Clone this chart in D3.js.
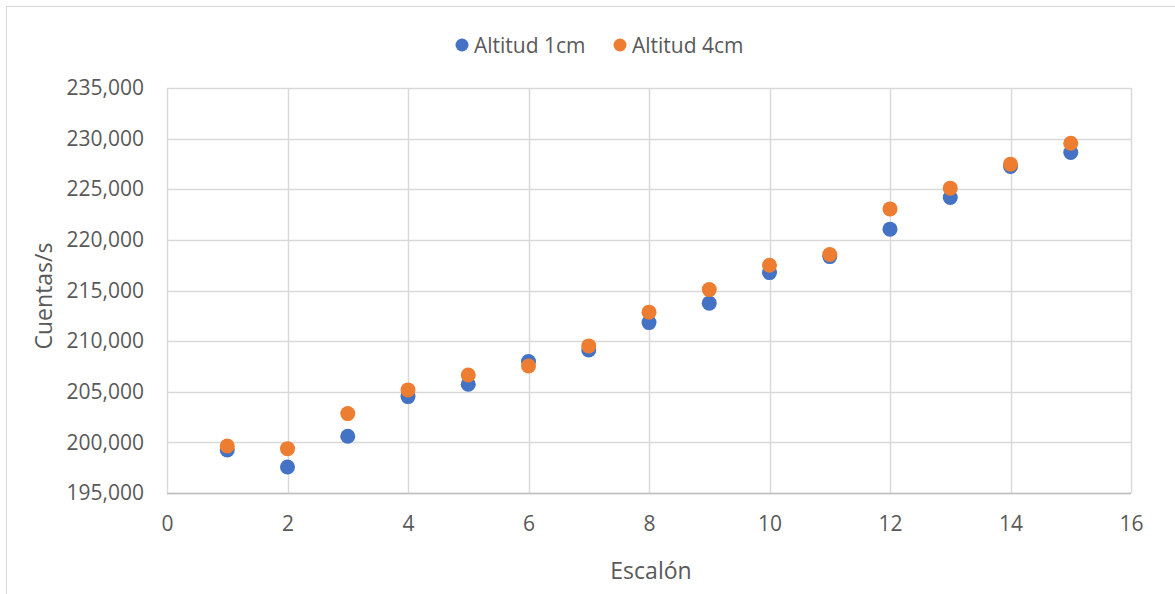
<!DOCTYPE html>
<html>
<head>
<meta charset="utf-8">
<script src="https://cdn.jsdelivr.net/npm/d3@7"></script>
<style>
  html, body { margin: 0; padding: 0; background: #fff; }
  svg { display: block; font-family: "Open Sans", "Noto Sans", sans-serif; }
</style>
</head>
<body>
<svg id="chart" width="1175" height="594"></svg>
<script>
// Step number (Escalón) for each measurement
const steps = [1, 2, 3, 4, 5, 6, 7, 8, 9, 10, 11, 12, 13, 14, 15];
// Count rate (Cuentas/s) at 1 cm altitude
const altitud1cm = [199250, 197570, 200600, 204520, 205740, 207980, 209130, 211830, 213750, 216770, 218350, 221060, 224180, 227240, 228630];
// Count rate (Cuentas/s) at 4 cm altitude
const altitud4cm = [199640, 199380, 202840, 205180, 206660, 207550, 209530, 212860, 215090, 217500, 218550, 223060, 225110, 227480, 229550];
const seriesNames = ["Altitud 1cm", "Altitud 4cm"];
const seriesColors = ["#4472C4", "#ED7D31"];
const xTicks = [0, 2, 4, 6, 8, 10, 12, 14, 16];
const yTicks = [195000, 200000, 205000, 210000, 215000, 220000, 225000, 230000, 235000];

const svg = d3.select("#chart");
const textColor = "#595959";
const gridColor = "#d9d9d9";

// Outer chart border
svg.append("rect")
  .attr("x", 6.5).attr("y", 6.5)
  .attr("width", 1180).attr("height", 600)
  .attr("fill", "none").attr("stroke", gridColor).attr("stroke-width", 1);

const plot = { left: 167, right: 1131, top: 88, bottom: 493 };
const x = d3.scaleLinear().domain([0, 16]).range([plot.left, plot.right]);
const y = d3.scaleLinear().domain([195000, 235000]).range([plot.bottom, plot.top]);

// Gridlines
const g = svg.append("g");
g.selectAll(".vgrid").data(xTicks).join("line")
  .attr("x1", d => Math.round(x(d)) + 0.5).attr("x2", d => Math.round(x(d)) + 0.5)
  .attr("y1", plot.top).attr("y2", plot.bottom)
  .attr("stroke", gridColor).attr("stroke-width", 1.5);
g.selectAll(".hgrid").data(yTicks).join("line")
  .attr("x1", plot.left).attr("x2", plot.right)
  .attr("y1", d => Math.round(y(d)) + 0.5).attr("y2", d => Math.round(y(d)) + 0.5)
  .attr("stroke", gridColor).attr("stroke-width", 1.5);
// Horizontal axis line
g.append("line")
  .attr("x1", plot.left).attr("x2", plot.right)
  .attr("y1", plot.bottom + 0.5).attr("y2", plot.bottom + 0.5)
  .attr("stroke", "#bfbfbf").attr("stroke-width", 1.5);

// Tick labels via d3 axes (domain and tick lines hidden)
const fmt = d3.format(",");
const yAxis = svg.append("g")
  .attr("transform", `translate(${plot.left},0)`)
  .call(d3.axisLeft(y).tickValues(yTicks).tickFormat(fmt).tickSize(0).tickPadding(23));
const xAxis = svg.append("g")
  .attr("transform", `translate(0,${plot.bottom})`)
  .call(d3.axisBottom(x).tickValues(xTicks).tickFormat(d3.format("d")).tickSize(0).tickPadding(23));
[yAxis, xAxis].forEach(a => {
  a.select(".domain").remove();
  a.selectAll("text").attr("fill", textColor)
    .style("font-family", '"Open Sans", sans-serif').style("font-size", "21px");
});

// Axis titles
svg.append("text")
  .attr("transform", "translate(52,296) rotate(-90)")
  .attr("text-anchor", "middle")
  .attr("fill", textColor).style("font-size", "23px")
  .text("Cuentas/s");
svg.append("text")
  .attr("x", 651).attr("y", 579)
  .attr("text-anchor", "middle")
  .attr("fill", textColor).style("font-size", "23px")
  .text("Escalón");

// Data points
const series = [altitud1cm, altitud4cm];
series.forEach((vals, i) => {
  svg.append("g").selectAll("circle")
    .data(steps.map((s, k) => ({ s, v: vals[k] })))
    .join("circle")
    .attr("cx", d => x(d.s)).attr("cy", d => y(d.v))
    .attr("r", 7.5)
    .attr("fill", seriesColors[i]);
});

// Legend
const legendX = [462, 620];
const legend = svg.append("g");
seriesNames.forEach((name, i) => {
  legend.append("circle")
    .attr("cx", legendX[i]).attr("cy", 45).attr("r", 6.5)
    .attr("fill", seriesColors[i]);
  legend.append("text")
    .attr("x", legendX[i] + 12).attr("y", 52.5)
    .attr("fill", textColor).style("font-size", "21px")
    .text(name);
});
</script>
</body>
</html>
